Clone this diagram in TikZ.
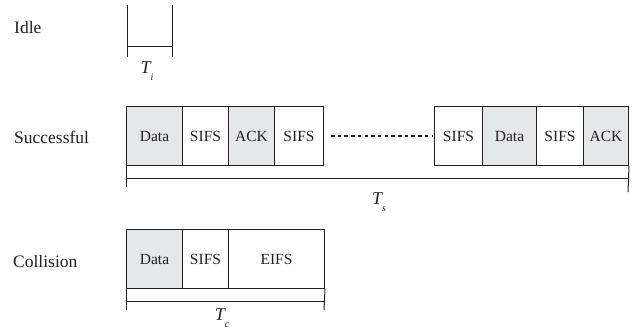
\documentclass[tikz,border=0pt]{standalone}
\usepackage{fontspec}
\setmainfont{Liberation Serif}
\definecolor{boxgray}{RGB}{230,231,233}
\definecolor{ink}{RGB}{35,31,32}
\begin{document}
\begin{tikzpicture}[x=1pt,y=-1pt,
  cell/.style={draw=ink,line width=1pt,anchor=north west,inner sep=0pt,minimum height=59pt,font=\fontsize{15.5}{18}\selectfont,text=ink},
  shade/.style={cell,fill=boxgray},
  lab/.style={anchor=base west,inner sep=0pt,font=\fontsize{17.5}{20}\selectfont,text=ink},
  tl/.style={draw=ink,line width=1pt},
  dur/.style={inner sep=0pt,anchor=base,text=ink,font=\fontsize{18}{20}\selectfont\itshape},
  dotline/.style={draw=ink,line width=1.6pt,dash pattern=on 3.5pt off 3.2pt}]
\useasboundingbox (0,0) rectangle (640,333);
\newcommand{\durlab}[2]{#1\raisebox{-7pt}{\fontsize{10}{10}\selectfont #2}}
% labels
\node[lab] (lidle) at (14,33) {Idle};
\node[lab] (lsucc) at (14,143) {Successful};
\node[lab] (lcoll) at (13,267) {Collision};
% idle
\coordinate (i1) at (127,5);
\coordinate (i2) at (127,57);
\coordinate (i3) at (172,5);
\coordinate (i4) at (172,57);
\coordinate (i5) at (127,46);
\coordinate (i6) at (172,46);
\draw[tl] (i1) -- (i2);
\draw[tl] (i3) -- (i4);
\draw[tl] (i5) -- (i6);
\node[dur] (ti) at (147,73) {\durlab{T}{i}};
% successful
\node[shade,minimum width=56pt] (s1) at (126,106) {Data};
\node[cell,minimum width=46pt] (s2) at (182,106) {SIFS};
\node[shade,minimum width=46pt] (s3) at (228,106) {ACK};
\node[cell,minimum width=49pt] (s4) at (274,106) {SIFS};
\node[cell,minimum width=48pt] (s5) at (434,106) {SIFS};
\node[shade,minimum width=54pt] (s6) at (482,106) {Data};
\node[cell,minimum width=47pt] (s7) at (536,106) {SIFS};
\node[shade,minimum width=45pt] (s8) at (583,106) {ACK};
\draw[dotline] ([xshift=7pt]s4.east) -- ([xshift=-2pt]s5.west);
\coordinate (sa) at (126,187);
\coordinate (sb) at (628,192);
\coordinate (sl) at (126,178);
\coordinate (sr) at (628,178);
\draw[tl] (s1.south west) -- (sa);
\draw[tl] (s8.south east) -- (sb);
\draw[tl] (sl) -- (sr);
\node[dur] (ts) at (379,204) {\durlab{T}{s}};
% collision
\node[shade,minimum width=56pt] (c1) at (126,229) {Data};
\node[cell,minimum width=46pt] (c2) at (182,229) {SIFS};
\node[cell,minimum width=96pt] (c3) at (228,229) {EIFS};
\coordinate (ca) at (126,310);
\coordinate (cb) at (324,310);
\coordinate (cl) at (126,301);
\coordinate (cr) at (324,301);
\draw[tl] (c1.south west) -- (ca);
\draw[tl] (c3.south east) -- (cb);
\draw[tl] (cl) -- (cr);
\node[dur] (tc) at (222,320) {\durlab{T}{c}};
\end{tikzpicture}
\end{document}
